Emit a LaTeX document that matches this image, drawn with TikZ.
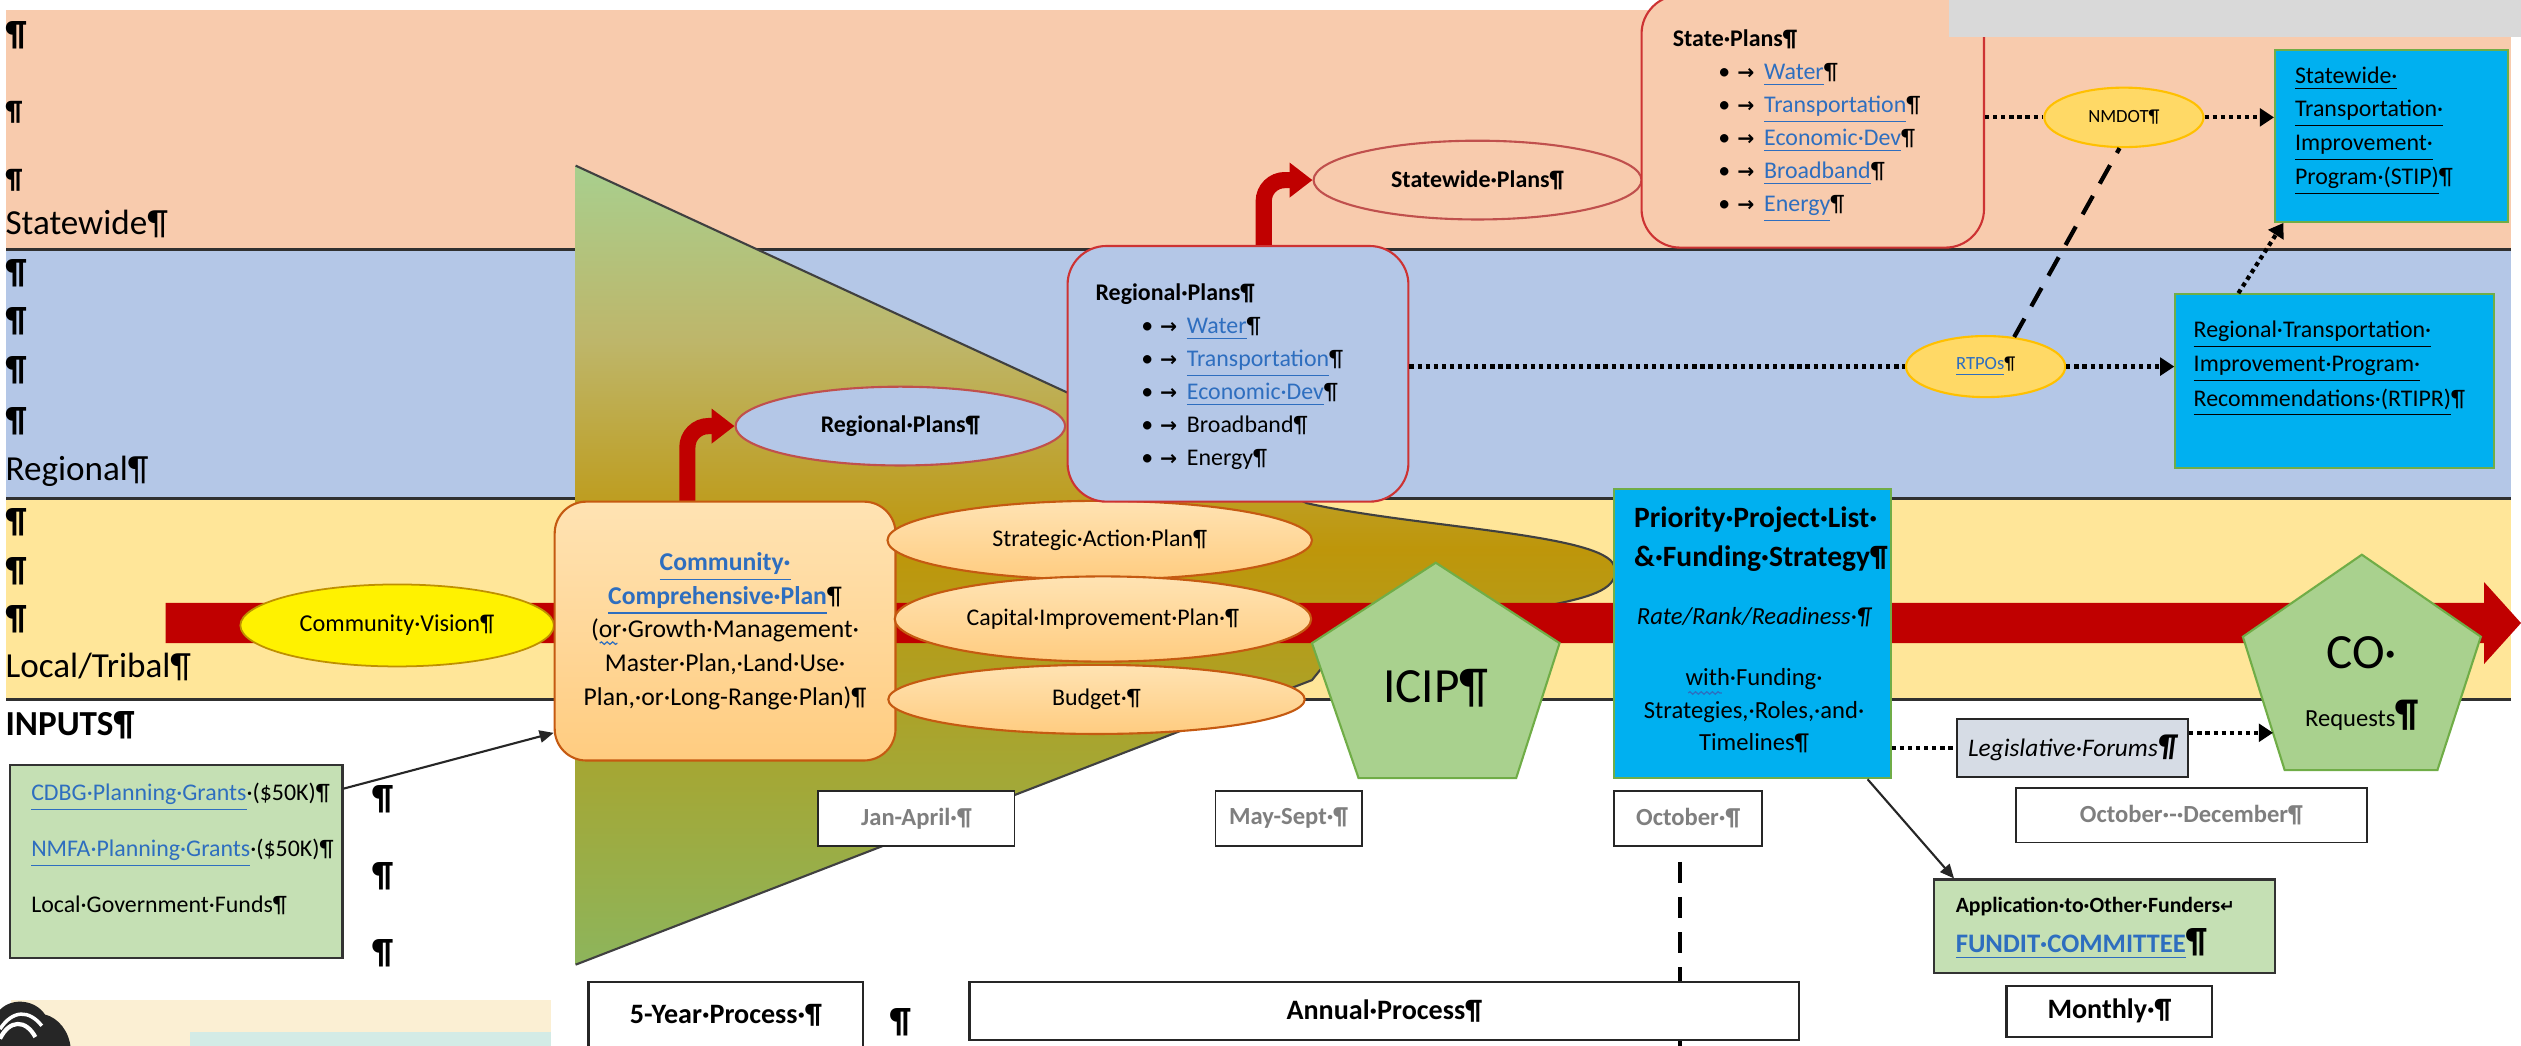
\documentclass[tikz,border=0pt]{standalone}
\usepackage{fontspec}
\setmainfont{Carlito}
\newfontfamily\dejavu{DejaVu Sans}
\usetikzlibrary{arrows.meta,calc,shapes.geometric,decorations.pathmorphing}

\definecolor{peachc}{HTML}{F8CBAD}
\definecolor{bluec}{HTML}{B4C7E7}
\definecolor{yelc}{HTML}{FFE699}
\definecolor{redc}{HTML}{C00000}
\definecolor{cyanc}{HTML}{00B0F0}
\definecolor{lgreen}{HTML}{C5E0B4}
\definecolor{pgreen}{HTML}{A9D18E}
\definecolor{pgreenb}{HTML}{70AD47}
\definecolor{orlight}{HTML}{FFE3B3}
\definecolor{ordark}{HTML}{FFCC80}
\definecolor{orbord}{HTML}{C55A11}
\definecolor{redbord}{HTML}{C0504D}
\definecolor{goldf}{HTML}{FFD966}
\definecolor{goldb}{HTML}{FFC000}
\definecolor{cvb}{HTML}{BF9000}
\definecolor{linkc}{HTML}{2E6EBF}
\definecolor{grayc}{HTML}{D9D9D9}
\definecolor{legc}{HTML}{D6DCE5}
\definecolor{monthc}{HTML}{7F7F7F}
\definecolor{sepc}{HTML}{303030}
\definecolor{creamc}{HTML}{FBEFD3}
\definecolor{tealc}{HTML}{D3EBE6}
\definecolor{fA}{HTML}{8DB55C}
\definecolor{fB}{HTML}{A6A632}
\definecolor{fC}{HTML}{BE960A}
\definecolor{fD}{HTML}{BEB66A}
\definecolor{fE}{HTML}{A8CF8E}

\pgfdeclareverticalshading{funnel}{100bp}{color(0bp)=(fA); color(25bp)=(fA); color(38bp)=(fB); color(51bp)=(fC); color(64bp)=(fD); color(75bp)=(fE); color(100bp)=(fE)}

\newcommand{\pxu}{0.016078cm}
\newcommand{\bluelink}[1]{\textcolor{linkc}{\underline{#1}}}
\newcommand{\bitem}[1]{\hspace*{13pt}\makebox[13pt][l]{•\kern2pt{\dejavu\bfseries\fontsize{5.8}{5}\selectfont →}}#1}

\tikzset{
  sz/.style 2 args={minimum width=#1*\pxu, minimum height=#2*\pxu, inner sep=0pt},
  sep/.style={draw=sepc, line width=0.8pt},
  lab/.style={anchor=west, inner sep=0pt, font=\fontsize{10}{10}\selectfont},
  pil/.style={anchor=west, inner sep=0pt, font=\fontsize{10}{10}\selectfont\bfseries},
  pils/.style={anchor=west, inner sep=0pt, font=\fontsize{8}{8}\selectfont\bfseries},
  txt/.style={inner sep=0pt, font=\fontsize{6.8}{9.4}\selectfont},
  orell/.style={ellipse, draw=orbord, line width=0.6pt, top color=orlight, bottom color=ordark, font=\fontsize{6.8}{8}\selectfont},
  blell/.style={ellipse, draw=redbord, line width=0.6pt, fill=bluec, font=\fontsize{6.8}{8}\selectfont\bfseries},
  peell/.style={ellipse, draw=redbord, line width=0.6pt, fill=peachc, font=\fontsize{6.8}{8}\selectfont\bfseries},
  goldell/.style={ellipse, draw=goldb, line width=0.6pt, fill=goldf, font=\fontsize{5.3}{6}\selectfont},
  cvell/.style={ellipse, draw=cvb, line width=0.5pt, fill=yellow, font=\fontsize{6.9}{8}\selectfont},
  plans/.style={rectangle, draw=redc!80, line width=0.6pt, rounded corners=11pt},
  cbox/.style={rectangle, draw=pgreenb, line width=0.6pt, fill=cyanc},
  gbox/.style={rectangle, draw=black!80, line width=0.6pt, fill=lgreen},
  monthbox/.style={rectangle, draw=black!85, line width=0.5pt, fill=white, font=\fontsize{7}{8}\selectfont\bfseries\color{monthc}},
  procbox/.style={rectangle, draw=black!85, line width=0.6pt, fill=white, font=\fontsize{8}{9}\selectfont\bfseries},
  pent/.style={draw=pgreenb, line width=0.6pt, fill=pgreen},
  bent/.style={draw=redc, line width=4.6pt, rounded corners=6pt, -{Triangle[length=6.5pt,width=9.5pt]}},
  dots/.style={line width=1.2pt, dash pattern=on 1.2pt off 1.1pt},
  dotarrow/.style={dots, -{Triangle[length=4pt,width=5pt]}},
  bigdash/.style={line width=1.2pt, dash pattern=on 6pt off 4pt},
  thinarrow/.style={draw=black!85, line width=0.6pt, -{Triangle[length=4pt,width=3.5pt]}},
  squiggle/.style={draw=linkc, line width=0.35pt, decorate, decoration={snake, amplitude=0.35pt, segment length=1.6pt}}
}

\begin{document}
\begin{tikzpicture}[x=0.016078cm, y=-0.016078cm]
\useasboundingbox (0,0) rectangle (1568,650);

% level bands
\fill[peachc] (4,6) rectangle (1562,155);
\fill[bluec] (4,155) rectangle (1562,310);
\fill[yelc] (4,310) rectangle (1562,435);
\foreach \yy in {155,310,435} \draw[sep] (4,\yy) -- (1562,\yy);

% left column labels
\foreach \yy [count=\i] in {22,170,200,230,262,325,355,385} \node[pil] (pm\i) at (3,\yy) {¶};
\foreach \yy [count=\i] in {70,112} \node[pils] (ps\i) at (3,\yy) {¶};
\node[lab] (lstate) at (3,139) {Statewide¶};
\node[lab] (lreg) at (3,293) {Regional¶};
\node[lab] (lloc) at (3,415) {Local/Tribal¶};
\node[lab, font=\fontsize{10}{10}\selectfont\bfseries] (linp) at (3,451) {INPUTS¶};

% planning funnel
\shade[shading=funnel] (358,103) -- (813,313) .. controls (880,328) and (998,332) .. (1004,352)
  .. controls (1008,366) and (990,371) .. (966,376) -- (833,402) -- (816,423) -- (358,600) -- cycle;
\draw[black!75, line width=0.6pt] (358,600) -- (816,423) -- (833,402) -- (966,376)
  .. controls (990,371) and (1008,366) .. (1004,352) .. controls (998,332) and (880,328) .. (813,313) -- (358,103);

% main timeline arrow
\fill[redc] (103,375) -- (1545,375) -- (1545,362) -- (1568,387.5) -- (1545,413) -- (1545,400) -- (103,400) -- cycle;

% local level
\node[cvell, sz={195}{51}] (cv) at (247,389) {Community·Vision¶};
\node[rectangle, draw=orbord, line width=0.6pt, rounded corners=9pt, top color=orlight, bottom color=ordark,
      sz={212}{161}, align=center, font=\fontsize{7.3}{9.6}\selectfont] (ccp) at (451,392.5)
  {\textbf{\bluelink{Community·}}\\\textbf{\bluelink{Comprehensive·Plan}}¶\\(or·Growth·Management·\\Master·Plan,·Land·Use·\\Plan,·or·Long-Range·Plan)¶};
\coordinate (sqa) at (373,400); \coordinate (sqb) at (384,400);
\draw[squiggle] (sqa) -- (sqb);
\node[orell, sz={264}{49}] (sap) at (684,336) {Strategic·Action·Plan¶};
\node[orell, sz={259}{53}] (cip) at (686,385) {Capital·Improvement·Plan·¶};
\node[orell, sz={259}{43}] (bud) at (682,435) {Budget·¶};

% regional level
\node[blell, sz={205}{49}] (rpe) at (560,265) {Regional·Plans¶};
\node[plans, fill=bluec, sz={212}{159}] (rbox) at (770,232.5) {};
\node[txt, anchor=north west, align=left] (rboxt) at (681,176)
  {\textbf{Regional·Plans¶}\\\bitem{\bluelink{Water}¶}\\\bitem{\bluelink{Transportation}¶}\\\bitem{\bluelink{Economic·Dev}¶}\\\bitem{Broadband¶}\\\bitem{Energy¶}};
\draw[bent] ($(ccp.north west)!0.39!(ccp.north east)$) |- (rpe.west);

% statewide level
\node[peell, sz={204}{49}] (spe) at (919,112) {Statewide·Plans¶};
\node[plans, fill=peachc, sz={213}{157}] (sbox) at (1127.5,75.5) {};
\node[txt, anchor=north west, align=left] (sboxt) at (1040,18)
  {\textbf{State·Plans¶}\\\bitem{\bluelink{Water}¶}\\\bitem{\bluelink{Transportation}¶}\\\bitem{\bluelink{Economic·Dev}¶}\\\bitem{\bluelink{Broadband}¶}\\\bitem{\bluelink{Energy}¶}};
\draw[bent] ($(rbox.north west)!0.575!(rbox.north east)$) |- (spe.west);
\fill[grayc] (1212,0) rectangle (1568,23);

% transportation programs
\node[goldell, sz={99}{37}] (nm) at (1321,73) {NMDOT¶};
\node[cbox, sz={145}{107}] (stip) at (1487.5,84.5) {};
\node[txt, anchor=north west, align=left, font=\fontsize{6.8}{9.6}\selectfont] (stipt) at (1427,41)
  {\underline{Statewide·}\\\underline{Transportation·}\\\underline{Improvement·}\\\underline{Program·(STIP)}¶};
\node[goldell, sz={99}{38}] (rt) at (1235,228) {\bluelink{RTPOs}¶};
\node[cbox, sz={198}{108}] (rtipr) at (1452,237) {};
\node[txt, anchor=north west, align=left, font=\fontsize{6.8}{9.8}\selectfont] (rtiprt) at (1364,199)
  {\underline{Regional·Transportation·}\\\underline{Improvement·Program·}\\\underline{Recommendations·(RTIPR)}¶};

\draw[dots] (sbox.east |- nm.west) -- (nm.west);
\draw[dotarrow] (nm.east) -- (nm.east -| stip.west);
\draw[dots] (rbox.east |- rt.west) -- (rt.west);
\draw[dotarrow] (rt.east) -- (rt.east -| rtipr.west);
\draw[bigdash] (rt.46) -- (nm.262);
\draw[dotarrow] ($(rtipr.north west)!0.2!(rtipr.north east)$) -- ($(stip.south west)!0.04!(stip.south east)$);

% priority list and pentagons
\node[cbox, sz={172}{180}] (pri) at (1090,394) {};
\node[inner sep=0pt, anchor=north west, align=left, font=\fontsize{8.4}{11}\selectfont\bfseries] (prit) at (1016,315)
  {Priority·Project·List·\\\&·Funding·Strategy¶};
\node[inner sep=0pt, font=\fontsize{7}{8}\selectfont\itshape] (prir) at (1091,384) {Rate/Rank/Readiness·¶};
\node[inner sep=0pt, align=center, font=\fontsize{7}{9.2}\selectfont] (priw) at (1091,442)
  {with·Funding·\\Strategies,·Roles,·and·\\Timelines¶};
\coordinate (sqc) at (1050,431); \coordinate (sqd) at (1071,431);
\draw[squiggle] (sqc) -- (sqd);

\coordinate (ic1) at (893,350); \coordinate (ic2) at (970,400); \coordinate (ic3) at (943,484);
\coordinate (ic4) at (845,484); \coordinate (ic5) at (816,400);
\draw[pent] (ic1) -- (ic2) -- (ic3) -- (ic4) -- (ic5) -- cycle;
\node[inner sep=0pt, font=\fontsize{14}{14}\selectfont] (icip) at (893,428) {ICIP¶};

\coordinate (co1) at (1469,345); \coordinate (co2) at (1543,396); \coordinate (co3) at (1516,479);
\coordinate (co4) at (1421,479); \coordinate (co5) at (1395,396);
\draw[pent] (co1) -- (co2) -- (co3) -- (co4) -- (co5) -- cycle;
\node[inner sep=0pt, font=\fontsize{14}{14}\selectfont] (cot) at (1469,406) {CO·};
\node[inner sep=0pt, font=\fontsize{7}{8}\selectfont] (cor) at (1469,445) {Requests{\fontsize{11}{11}\selectfont\bfseries ¶}};
\coordinate (coL) at ($(co5)!0.72!(co4)$);

\node[rectangle, draw=black!85, line width=0.6pt, fill=legc, sz={144}{36}, font=\fontsize{7.2}{8}\selectfont\itshape] (leg) at (1289,465)
  {Legislative·Forums{\fontsize{9}{9}\selectfont\bfseries ¶}};
\draw[dots] (leg.west -| pri.east) -- (leg.west);
\draw[dotarrow] (leg.east |- coL) -- (coL);

\node[gbox, sz={212}{58}] (app) at (1309,576) {};
\node[inner sep=0pt, anchor=west, font=\fontsize{6.2}{7}\selectfont\bfseries] (appa) at (1216,564)
  {Application·to·Other·Funders{\dejavu\fontsize{5}{5}\selectfont ↵}};
\node[inner sep=0pt, anchor=west, font=\fontsize{7.6}{9}\selectfont\bfseries] (appb) at (1216,587)
  {\bluelink{FUNDIT·COMMITTEE}{\fontsize{10}{10}\selectfont ¶}};
\draw[thinarrow] ($(pri.south west)!0.913!(pri.south east)$) -- ($(app.north west)!0.061!(app.north east)$);

% inputs
\node[gbox, sz={207}{120}] (cdbg) at (109.5,536) {};
\node[inner sep=0pt, anchor=west, align=left, font=\fontsize{6.8}{16}\selectfont] (cdbgt) at (19,528)
  {\bluelink{CDBG·Planning·Grants}·(\$50K)¶\\\bluelink{NMFA·Planning·Grants}·(\$50K)¶\\Local·Government·Funds¶};
\draw[thinarrow] ($(cdbg.north east)!0.125!(cdbg.south east)$) -- ($(ccp.north west)!0.89!(ccp.south west)$);
\foreach \yy [count=\i] in {497,545,593} \node[pil, anchor=center] (pi\i) at (238,\yy) {¶};

% time periods
\node[monthbox, sz={122}{34}] (jan) at (570,509) {Jan-April·¶};
\node[monthbox, sz={91}{34}] (may) at (801.5,509) {May-Sept·¶};
\node[monthbox, sz={92}{34}] (oct) at (1050,509) {October·¶};
\node[monthbox, sz={218}{34}] (ocd) at (1363,507) {October·-·December¶};
\coordinate (dtop) at (1045,536);
\coordinate (dbot) at (1045,652);
\draw[bigdash] (dtop) -- (dbot);

\node[procbox, sz={171}{41}] (five) at (451.5,631.5) {5-Year·Process·¶};
\node[procbox, sz={516}{36}] (annual) at (861,629) {Annual·Process¶};
\node[procbox, sz={128}{32}] (monthly) at (1312,629) {Monthly·¶};
\node[pil, anchor=center] (pi4) at (560,636) {¶};

% corner emblem
\fill[creamc] (7,622) rectangle (343,652);
\fill[tealc] (118,642) rectangle (343,652);
\fill[black!85] (0,652) -- (0,628) .. controls (8,620) and (22,622) .. (28,631)
  .. controls (36,633) and (43,641) .. (44,652) -- cycle;
\draw[white, line width=1.2pt] (0,646) .. controls (6,634) and (16,634) .. (22,645);
\draw[white, line width=1pt] (0,640) .. controls (8,628) and (18,628) .. (26,638);
\end{tikzpicture}
\end{document}
